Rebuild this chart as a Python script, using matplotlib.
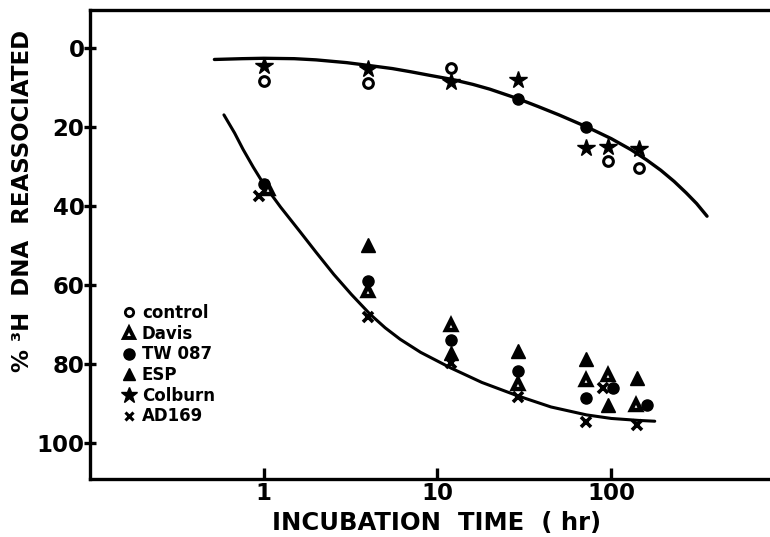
import matplotlib.pyplot as plt
from matplotlib.lines import Line2D
from matplotlib.ticker import FixedLocator, NullLocator

plt.rcParams['font.family'] = ['DejaVu Sans']
plt.rcParams['font.weight'] = 'bold'

# incubation time (hr) vs % 3H DNA reassociated
control_t = [1, 4, 12, 96, 144]
control_y = [8.5, 8.9, 5.1, 28.6, 30.3]

colburn_t = [1, 4, 12, 29, 72, 96, 144]
colburn_y = [4.7, 5.5, 8.7, 8.1, 25.3, 25.1, 25.5]

tw087_t = [1, 4, 12, 29, 72, 102, 160]
tw087_y = [34.5, 58.9, 74.0, 81.8, 88.5, 85.9, 90.3]
tw087_upper_t = [29, 72]
tw087_upper_y = [12.9, 20.0]

davis_t = [1.06, 4, 12, 29, 72, 96, 138]
davis_y = [35.8, 61.4, 70.2, 85.1, 84.0, 82.8, 90.3]

esp_t = [4, 12, 29, 72, 96, 141]
esp_y = [50.0, 77.1, 76.7, 78.6, 90.2, 83.6]

ad169_t = [0.94, 4, 12, 29, 72, 90, 141]
ad169_y = [37.4, 68.1, 79.8, 88.2, 94.5, 86.0, 95.4]

# hand drawn fit lines
upper_t = [0.52, 0.75, 1, 1.5, 2, 3, 4, 5.5, 7, 9, 12, 16, 20, 29, 38, 50, 72,
           100, 130, 160, 193, 230, 270, 310, 356]
upper_y = [3.0, 2.8, 2.7, 2.8, 3.1, 3.8, 4.5, 5.3, 6.1, 7.0, 8.0, 9.3, 10.5,
           12.9, 14.9, 17.0, 20.0, 23.0, 25.8, 28.4, 31.0, 33.8, 36.7, 39.4, 42.6]
lower_t = [0.59, 0.68, 0.76, 0.87, 1.0, 1.25, 1.63, 2.0, 2.53, 3.2, 4.1, 5.0,
           6.1, 8.0, 12, 18, 29, 45, 72, 100, 144, 178]
lower_y = [17.0, 21.6, 25.7, 30.2, 34.5, 40.3, 46.7, 51.7, 57.3, 62.4, 67.4,
           70.8, 73.7, 77.0, 81.0, 84.6, 88.0, 90.8, 92.8, 93.7, 94.2, 94.4]

x_ticks = [1, 10, 100]
x_ticklabels = ['1', '10', '100']
y_ticks = [0, 20, 40, 60, 80, 100]

fig = plt.figure(figsize=(7.7, 5.37), dpi=100)
ax = fig.add_axes([90/770, 1-479/537, 1-90/770, 469/537])
ax.set_xscale('log')
ax.set_xlim(0.1, 820)
ax.set_ylim(109, -9.5)

ax.plot(upper_t, upper_y, color='black', lw=2.4, solid_capstyle='round')
ax.plot(lower_t, lower_y, color='black', lw=2.2, solid_capstyle='round')

open_circ = dict(marker='o', ms=7, mfc='white', mec='black', mew=2.2, ls='none')
dot = dict(marker='o', ms=8, color='black', ls='none')
tri_open = dict(marker='^', ms=7.5, mfc='white', mec='black', mew=3.2, ls='none')
tri = dict(marker='^', ms=9.5, color='black', ls='none')
star = dict(marker='*', ms=13, color='black', ls='none')
cross = dict(marker='x', ms=7, mec='black', mew=2.6, ls='none')

ax.plot(control_t, control_y, **open_circ)
ax.plot(colburn_t, colburn_y, **star)
ax.plot(tw087_t, tw087_y, **dot)
ax.plot(tw087_upper_t, tw087_upper_y, **dot)
ax.plot(davis_t, davis_y, **tri_open)
ax.plot(esp_t, esp_y, **tri)
ax.plot(ad169_t, ad169_y, **cross)

ax.xaxis.set_major_locator(FixedLocator(x_ticks))
ax.xaxis.set_minor_locator(NullLocator())
ax.set_xticklabels(x_ticklabels)
ax.set_yticks(y_ticks)
ax.set_yticklabels([str(v) for v in y_ticks])
ax.tick_params(axis='x', direction='in', length=8, width=2.4, pad=2, labelsize=16.5)
ax.tick_params(axis='y', direction='inout', length=8, width=2.4, pad=0, labelsize=16.5)

for s in ['left', 'top', 'bottom']:
    ax.spines[s].set_linewidth(2.4)
ax.spines['right'].set_visible(False)

handles = [
    Line2D([], [], **dict(open_circ, ms=6, mew=2.0)),
    Line2D([], [], **dict(tri_open, ms=6.5, mew=2.8)),
    Line2D([], [], **dict(dot, ms=8)),
    Line2D([], [], **dict(tri, ms=8.5)),
    Line2D([], [], **dict(star, ms=12)),
    Line2D([], [], **dict(cross, ms=6, mew=2.2)),
]
labels = ['control', 'Davis', 'TW 087', 'ESP', 'Colburn', 'AD169']
ax.legend(handles, labels, loc='upper left', bbox_to_anchor=(0.047, 0.373),
          frameon=False, fontsize=12, handlelength=0.8, handletextpad=0.4,
          labelspacing=0.16, borderpad=0, borderaxespad=0)

fig.text(0.029, 0.626, '% ³H  DNA  REASSOCIATED', rotation=90, ha='center',
         va='center', fontsize=16.5, fontweight='bold')
fig.text(0.5675, 0.026, 'INCUBATION  TIME  ( hr)', ha='center', va='center',
         fontsize=17.5, fontweight='bold')

fig.savefig('out.png', dpi=100)
